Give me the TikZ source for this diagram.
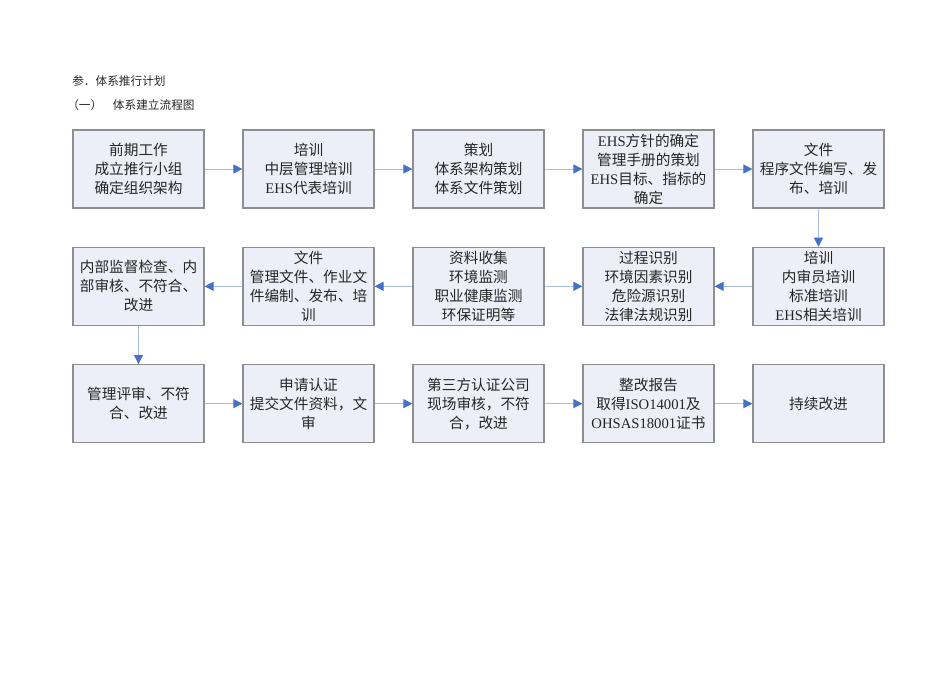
\documentclass[tikz,border=0pt]{standalone}
\usepackage{fontspec}
\setmainfont{Noto Sans CJK SC}
\newfontfamily\lat{Liberation Serif}
\usepackage{xcolor}
\usepackage{tikz}
\usetikzlibrary{shapes, arrows.meta}

\definecolor{boxfill}{HTML}{ECEFF7}
\definecolor{boxline}{HTML}{8E8E8E}
\definecolor{flowline}{HTML}{A9BEE2}
\definecolor{flowhead}{HTML}{4472C4}
\definecolor{textgray}{HTML}{262626}

\begin{document}
\begin{tikzpicture}[x=0.75pt, y=-0.75pt, node distance=127.5pt, auto,
        block/.style={rectangle, draw=boxline, fill=boxfill, line width=0.9pt, text=textgray, align=center, minimum width=98.25pt, minimum height=58.5pt, inner sep=2pt, font=\fontsize{11pt}{14.25pt}\selectfont},
        flow/.style={draw=flowline, line width=0.75pt, -{Triangle[length=6.75pt, width=6.75pt, color=flowhead]}},
        title/.style={anchor=west, inner sep=0pt, text=textgray, font=\fontsize{8.75pt}{10pt}\selectfont}]
        \useasboundingbox (0,0) rectangle (950,672);

        % Titles
        \node [title] (head) at (72,81) {参．体系推行计划};
        \node [title] (sub) at (67,105) {（一）\hspace{8pt}体系建立流程图};

        % Nodes
        \node [block] (prep) at (138.5,169) {前期工作\\成立推行小组\\确定组织架构};
        \node [block, right of=prep] (training) {培训\\中层管理培训\\{\lat EHS}代表培训};
        \node [block, right of=training] (planning) {策划\\体系架构策划\\体系文件策划};
        \node [block, right of=planning] (policy) {{\lat EHS}方针的确定\\管理手册的策划\\{\lat EHS}目标、指标的\\确定};
        \node [block, right of=policy] (docs) {文件\\程序文件编写、发\\布、培训};

        \node [block, node distance=88pt, below of=docs] (audittrain) {培训\\内审员培训\\标准培训\\{\lat EHS}相关培训};
        \node [block, left of=audittrain] (identify) {过程识别\\环境因素识别\\危险源识别\\法律法规识别};
        \node [block, left of=identify] (collect) {资料收集\\环境监测\\职业健康监测\\环保证明等};
        \node [block, left of=collect] (mgmtdocs) {文件\\管理文件、作业文\\件编制、发布、培\\训};
        \node [block, left of=mgmtdocs] (inspect) {内部监督检查、内\\部审核、不符合、\\改进};

        \node [block, node distance=88pt, below of=inspect] (review) {管理评审、不符\\合、改进};
        \node [block, right of=review] (apply) {申请认证\\提交文件资料，文\\审};
        \node [block, right of=apply] (thirdparty) {第三方认证公司\\现场审核，不符\\合，改进};
        \node [block, right of=thirdparty] (rectify) {整改报告\\取得{\lat ISO14001}及\\{\lat OHSAS18001}证书};
        \node [block, right of=rectify] (improve) {持续改进};

        % Arrows
        \path [flow] (prep) -- (training);
        \path [flow] (training) -- (planning);
        \path [flow] (planning) -- (policy);
        \path [flow] (policy) -- (docs);
        \path [flow] (docs) -- (audittrain);
        \path [flow] (audittrain) -- (identify);
        \path [flow] (collect) -- (identify);
        \path [flow] (collect) -- (mgmtdocs);
        \path [flow] (mgmtdocs) -- (inspect);
        \path [flow] (inspect) -- (review);
        \path [flow] (review) -- (apply);
        \path [flow] (apply) -- (thirdparty);
        \path [flow] (thirdparty) -- (rectify);
        \path [flow] (rectify) -- (improve);
    \end{tikzpicture}
\end{document}
